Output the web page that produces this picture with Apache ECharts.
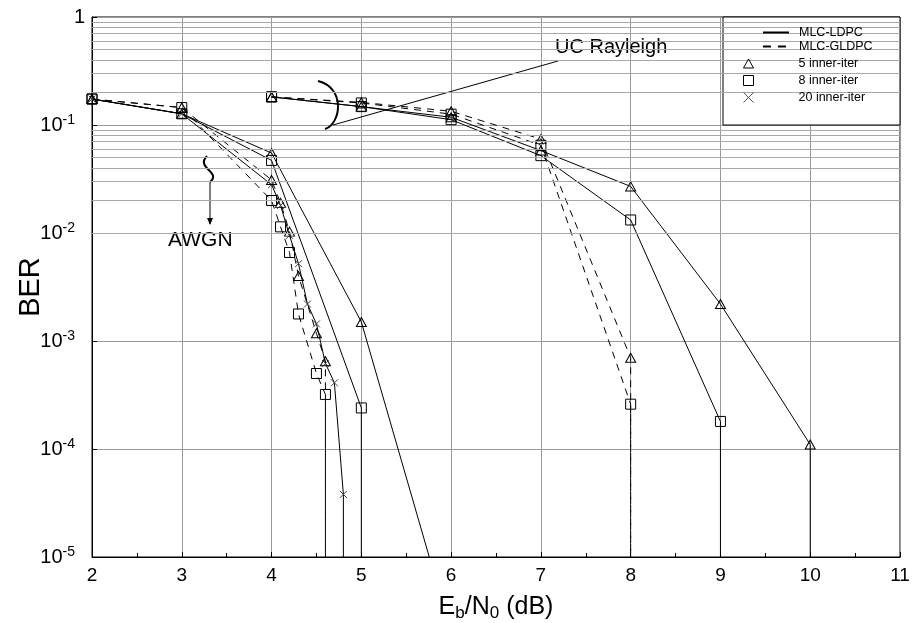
<!DOCTYPE html>
<html><head><meta charset="utf-8">
<script src="https://cdn.jsdelivr.net/npm/echarts@6/dist/echarts.min.js"></script>
<style>html,body{margin:0;padding:0;background:#fff}#c{width:919px;height:623px}</style>
</head><body><div id="c"></div>
<script>
// ---- data ----
const xTicks = [2, 3, 4, 5, 6, 7, 8, 9, 10, 11];
const yDecades = [1, 0.1, 0.01, 0.001, 0.0001, 0.00001];
const DROP = 1e-9; // curve falls to zero (off the bottom of the log axis)

const awgnLdpc5  = [[2,0.174],[3,0.127],[4,0.055],[5,0.0015],[6,2e-6]];
const awgnLdpc8  = [[2,0.174],[3,0.127],[4,0.047],[5,2.4e-4],[5,DROP]];
const awgnLdpc20 = [[2,0.174],[3,0.127],[4,0.028],[4.1,0.018],[4.2,0.0095],[4.3,0.0052],[4.4,0.0022],[4.5,0.00144],[4.6,6.2e-4],[4.7,4.1e-4],[4.8,3.8e-5],[4.8,DROP]];
const awgnGldpc5 = [[2,0.174],[3,0.145],[4,0.031],[4.1,0.019],[4.2,0.0103],[4.3,0.0040],[4.5,0.00118],[4.6,6.5e-4],[4.6,DROP]];
const awgnGldpc8 = [[2,0.174],[3,0.145],[4,0.020],[4.1,0.0114],[4.2,0.0066],[4.3,0.00178],[4.5,5.0e-4],[4.6,3.2e-4],[4.6,DROP]];
const rayLdpc5   = [[4,0.182],[5,0.148],[6,0.118],[7,0.058],[8,0.027],[9,0.0022],[10,1.1e-4],[10,DROP]];
const rayLdpc8   = [[4,0.182],[5,0.148],[6,0.112],[7,0.052],[8,0.0132],[9,1.8e-4],[9,DROP]];
const rayGldpc5  = [[4,0.182],[5,0.162],[6,0.134],[7,0.074],[8,7.0e-4],[8,DROP]];
const rayGldpc8  = [[4,0.182],[5,0.160],[6,0.126],[7,0.065],[8,2.6e-4],[8,DROP]];

const legendLines = ['MLC-LDPC', 'MLC-GLDPC'];
const legendMarks = ['5 inner-iter', '8 inner-iter', '20 inner-iter'];

// ---- styles ----
const FONT = 'Liberation Sans, Arial, Helvetica, sans-serif';
const SYM = {
  tri: 'path://M5,0L10,9L0,9Z',
  sq: 'rect',
  x: 'path://M0,0L10,10M10,0L0,10'
};
const SYMSIZE = { tri: [10, 9], sq: 10, x: 7 };
const DASH = [7, 6];
const HIDE = { color: 'rgba(0,0,0,0)', borderColor: 'rgba(0,0,0,0)', borderWidth: 0 };

const minorGrid = [];
for (let k = -5; k <= -1; k++) for (let m = 2; m <= 9; m++) minorGrid.push(+(m * Math.pow(10, k)).toPrecision(3));

function mk(name, pts, sym, dashed) {
  return {
    name, type: 'line', z: 3, clip: true,
    data: pts.map(p => p[1] < 1e-5 ? { value: p, symbol: 'none' } : { value: p }),
    symbol: SYM[sym], symbolSize: SYMSIZE[sym], showAllSymbol: true,
    itemStyle: { color: 'rgba(0,0,0,0)', borderColor: sym === 'x' ? '#444' : '#000', borderWidth: 1 },
    lineStyle: { color: '#000', width: 1, type: dashed ? DASH : 'solid' },
    emphasis: { disabled: true }, animation: false
  };
}

const series = [
  {
    name: 'grid', type: 'line', z: 1, data: [], silent: true,
    markLine: {
      silent: true, symbol: 'none', label: { show: false }, animation: false,
      lineStyle: { color: '#a8a8a8', type: 'solid', width: 1 },
      data: minorGrid.map(v => ({ yAxis: v }))
    }
  },
  mk('awgnLdpc5', awgnLdpc5, 'tri', false),
  mk('awgnLdpc8', awgnLdpc8, 'sq', false),
  mk('awgnLdpc20', awgnLdpc20, 'x', false),
  mk('awgnGldpc5', awgnGldpc5, 'tri', true),
  mk('awgnGldpc8', awgnGldpc8, 'sq', true),
  mk('rayLdpc5', rayLdpc5, 'tri', false),
  mk('rayLdpc8', rayLdpc8, 'sq', false),
  mk('rayGldpc5', rayGldpc5, 'tri', true),
  mk('rayGldpc8', rayGldpc8, 'sq', true),
  // legend-only entries
  { name: legendLines[0], type: 'line', data: [], symbol: 'none', lineStyle: { color: '#000', width: 1 }, itemStyle: HIDE },
  { name: legendLines[1], type: 'line', data: [], symbol: 'none', lineStyle: { color: '#000', width: 1, type: [8, 7] }, itemStyle: HIDE },
  { name: legendMarks[0], type: 'line', data: [], symbol: SYM.tri, itemStyle: { color: 'rgba(0,0,0,0)', borderColor: '#000', borderWidth: 1 } },
  { name: legendMarks[1], type: 'line', data: [], symbol: 'rect', itemStyle: { color: 'rgba(0,0,0,0)', borderColor: '#000', borderWidth: 1 } },
  { name: legendMarks[2], type: 'line', data: [], symbol: SYM.x, itemStyle: { color: 'rgba(0,0,0,0)', borderColor: '#555', borderWidth: 1 } }
];

const markIcons = [SYM.tri, 'rect', SYM.x];

const option = {
  animation: false,
  backgroundColor: '#fff',
  textStyle: { fontFamily: FONT },
  grid: { left: 92, right: 19, top: 17, bottom: 66, show: true, borderColor: '#000', borderWidth: 1, containLabel: false, outerBoundsMode: 'none' },
  xAxis: {
    type: 'value', min: xTicks[0], max: xTicks[xTicks.length - 1], interval: 1,
    axisLine: { lineStyle: { color: '#000', width: 1 } },
    axisTick: { inside: true, length: 5, lineStyle: { color: '#000' } },
    minorTick: { show: true, splitNumber: 2, length: 4, lineStyle: { color: '#000' } },
    splitLine: { show: true, lineStyle: { color: '#999', width: 1 } },
    axisLabel: { fontSize: 19, color: '#000', margin: 9, fontFamily: FONT },
    name: 'E{sub|b}/N{sub|0} (dB)', nameLocation: 'middle', nameGap: 35, nameMoveOverlap: false,
    nameTextStyle: {
      fontSize: 25, color: '#000', fontFamily: FONT,
      rich: { sub: { fontSize: 17, verticalAlign: 'bottom', padding: [13, 0, 0, 0], fontFamily: FONT, color: '#000' } }
    }
  },
  yAxis: {
    type: 'log', logBase: 10, min: yDecades[yDecades.length - 1], max: yDecades[0],
    axisLine: { lineStyle: { color: '#000', width: 1 } },
    axisTick: { inside: true, length: 5, lineStyle: { color: '#000' } },
    splitLine: { show: true, lineStyle: { color: '#999', width: 1 } },
    axisLabel: {
      color: '#000', fontSize: 20, margin: 7, fontFamily: FONT,
      formatter: v => {
        const e = Math.round(Math.log10(v));
        return e === 0 ? '1' : '10{sup|' + e + '}{sp|}';
      },
      rich: {
        sup: { fontSize: 14, verticalAlign: 'top', padding: [0, 0, 10, 0], fontFamily: FONT, color: '#000' },
        sp: { width: 10 }
      }
    },
    name: 'BER', nameLocation: 'middle', nameGap: 47, nameMoveOverlap: false,
    nameTextStyle: { fontSize: 29, color: '#000', fontFamily: FONT }
  },
  legend: [
    {
      data: legendLines.map(n => ({ name: n, itemStyle: HIDE })), orient: 'vertical', left: 762, top: 26, padding: 0,
      itemWidth: 26, itemHeight: 10, itemGap: 1,
      textStyle: { fontSize: 12.5, color: '#000', fontFamily: FONT, padding: [0, 0, 0, 5] }, selectedMode: false, z: 6
    },
    {
      data: legendMarks.map((n, i) => ({ name: n, icon: markIcons[i], itemStyle: { color: 'rgba(0,0,0,0)', borderColor: i === 2 ? '#555' : '#000', borderWidth: 1 } })),
      orient: 'vertical', left: 743, top: 57, padding: 0, itemWidth: 10, itemHeight: 10, itemGap: 4,
      textStyle: { fontSize: 12.5, color: '#000', fontFamily: FONT, padding: [0, 0, 0, 40] }, selectedMode: false, z: 6
    }
  ],
  graphic: [
    { type: 'rect', z: 5, shape: { x: 723, y: 17, width: 177, height: 108 }, style: { fill: '#fff', stroke: '#000', lineWidth: 1 } },
    { type: 'text', z: 5, x: 555, y: 37, style: { text: 'UC Rayleigh', fontSize: 20, fontFamily: FONT, fill: '#000' } },
    { type: 'line', z: 5, shape: { x1: 333, y1: 125, x2: 558, y2: 61 }, style: { stroke: '#000', lineWidth: 1 } },
    { type: 'bezierCurve', z: 5, shape: { x1: 318, y1: 81, cpx1: 346, cpy1: 88, cpx2: 341, cpy2: 124, x2: 325, y2: 129 }, style: { stroke: '#000', lineWidth: 2, fill: null } },
    { type: 'text', z: 5, x: 168, y: 230, style: { text: 'AWGN', fontSize: 21, fontFamily: FONT, fill: '#000' } },
    { type: 'bezierCurve', z: 5, shape: { x1: 207, y1: 156, cpx1: 195, cpy1: 168, cpx2: 222, cpy2: 172, x2: 210, y2: 182 }, style: { stroke: '#000', lineWidth: 2, fill: null } },
    { type: 'line', z: 5, shape: { x1: 210, y1: 182, x2: 210, y2: 224 }, style: { stroke: '#000', lineWidth: 1 } },
    { type: 'polygon', z: 5, shape: { points: [[207, 218], [213, 218], [210, 225]] }, style: { fill: '#000' } }
  ],
  series
};

const chart = echarts.init(document.getElementById('c'), null, { renderer: 'canvas' });
chart.setOption(option);
</script>
</body></html>
